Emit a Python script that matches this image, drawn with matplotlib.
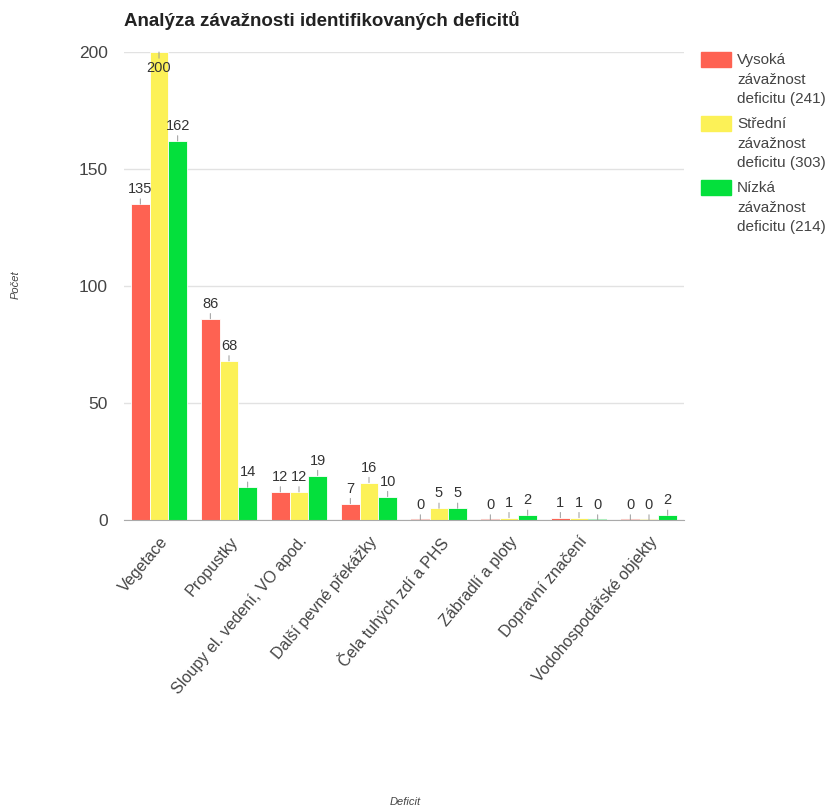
import numpy as np
import matplotlib.pyplot as plt
from matplotlib.patches import Rectangle

plt.rcParams['font.family'] = ['Liberation Sans', 'DejaVu Sans']

categories = ["Vegetace", "Propustky", "Sloupy el. vedení, VO apod.",
              "Další pevné překážky", "Čela tuhých zdí a PHS",
              "Zábradlí a ploty", "Dopravní značení", "Vodohospodářské objekty"]
vysoka = [135, 86, 12, 7, 0, 0, 1, 0]
stredni = [200, 68, 12, 16, 5, 1, 1, 0]
nizka = [162, 14, 19, 10, 5, 2, 0, 2]
series_names = ["Vysoká\nzávažnost\ndeficitu (241)",
                "Střední\nzávažnost\ndeficitu (303)",
                "Nízká\nzávažnost\ndeficitu (214)"]
colors = ["#fe6252", "#fcf157", "#04e03c"]
yticks = [0, 50, 100, 150, 200]

W, H = 829, 809
fig = plt.figure(figsize=(W / 100, H / 100), dpi=100)
ax = fig.add_axes([124 / W, 1 - 520 / H, 560 / W, 468 / H])

x = np.arange(len(categories))
bw = 0.8 / 3
ymax = 200
for i, (vals, col) in enumerate(zip([vysoka, stredni, nizka], colors)):
    xs = x - bw + i * bw
    ax.bar(xs, vals, width=bw, color=col, edgecolor='white', linewidth=0.6, zorder=3)
    for xi, v in zip(xs, vals):
        if v == 0:
            ax.plot([xi - bw / 2, xi + bw / 2], [0, 0], color=col, alpha=0.3, lw=1.5,
                    zorder=4, solid_capstyle='butt')
        if v >= ymax:
            # bar is cut at the top, label goes inside
            ax.annotate(str(v), xy=(xi, ymax), xytext=(0, -9), textcoords='offset pixels',
                        ha='center', va='top', fontsize=10.5, color='#333333',
                        arrowprops=dict(arrowstyle='-', color='#999999', lw=0.7,
                                        shrinkA=0, shrinkB=0), zorder=5)
        else:
            ax.annotate(str(v), xy=(xi, v), xytext=(0, 8), textcoords='offset pixels',
                        ha='center', va='bottom', fontsize=10.5, color='#333333',
                        arrowprops=dict(arrowstyle='-', color='#999999', lw=0.7,
                                        shrinkA=0, shrinkB=0), zorder=5)

ax.set_xlim(-0.5, len(categories) - 0.5)
ax.set_ylim(0, ymax)
ax.set_yticks(yticks)
ax.set_xticks(x)
ax.set_xticklabels(categories, rotation=50, ha='right', rotation_mode='anchor',
                   fontsize=11.6, color='#444444')
ax.tick_params(axis='x', length=0, pad=10)
ax.tick_params(axis='y', length=0, pad=11.5, labelsize=12.5, labelcolor='#444444')
ax.grid(axis='y', color='#e2e2e2', lw=1, zorder=0)
for s in ['top', 'right', 'left']:
    ax.spines[s].set_visible(False)
ax.spines['bottom'].set_color('#aaaaaa')
ax.spines['bottom'].set_zorder(6)

fig.text(124 / W, 1 - 20 / H, "Analýza závažnosti identifikovaných deficitů",
         fontsize=13.5, fontweight='bold', color='#222222', va='center', ha='left')
fig.text(16 / W, 1 - 285 / H, "Počet", rotation=90, fontsize=8, style='italic',
         color='#444444', ha='center', va='center')
fig.text(405 / W, 1 - 802 / H, "Deficit", fontsize=8, style='italic',
         color='#444444', ha='center', va='center')

# legend
for k, (name, col) in enumerate(zip(series_names, colors)):
    top = 52 + k * 64
    fig.add_artist(Rectangle((701 / W, 1 - (top + 15) / H), 30 / W, 15 / H,
                             transform=fig.transFigure, color=col))
    fig.text(737 / W, 1 - (top + 1) / H, name, fontsize=11, color='#444444',
             va='top', ha='left', linespacing=1.5)

fig.savefig("out.png", dpi=100)
